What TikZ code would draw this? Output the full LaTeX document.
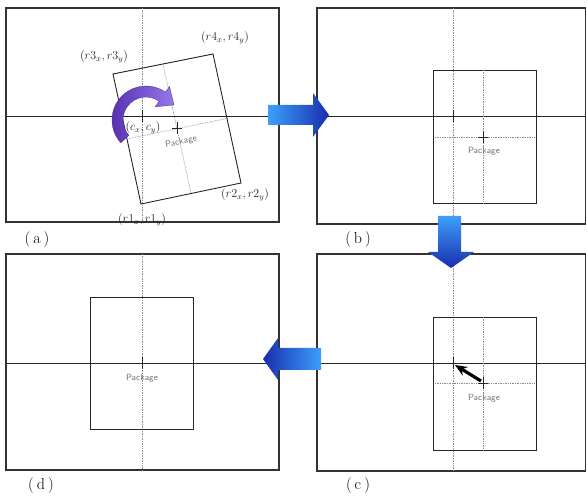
\documentclass[tikz,border=0pt]{standalone}
\usepackage{fontspec}
\usetikzlibrary{arrows.meta}
\definecolor{lblue}{RGB}{60,160,250}
\definecolor{dblue}{RGB}{25,45,175}
\definecolor{dviol}{RGB}{85,45,175}
\definecolor{lviol}{RGB}{150,120,235}
\tikzset{
  pluscross/.pic={\draw[line width=0.9pt,black!85] (-5,0)--(5,0) (0,-6)--(0,6);},
  frame/.style={draw=black!80, line width=1.2pt},
  pkgbox/.style={draw=black!85, line width=0.9pt},
  axisline/.style={draw=black!85, line width=0.9pt},
  dots/.style={draw=black!45, line width=0.7pt, densely dotted},
  pkgtxt/.style={font=\sffamily\fontsize{9}{9}\selectfont, text=black!55, inner sep=0pt},
  panel/.style={font=\fontsize{16}{16}\selectfont, inner sep=0pt},
  coordlbl/.style={font=\fontsize{11.5}{11.5}\selectfont, text=black!85, inner sep=0pt},
  bluearrow/.style={draw=none}
}
\begin{document}
\begin{tikzpicture}[x=1pt,y=-1pt]
\useasboundingbox (0,0) rectangle (587,497);
\fill[white] (0,0) rectangle (587,497);

% ---------- panel (a)
\draw[frame] (6,8) rectangle (279,222);
\draw[dots] (142,8) -- (142,222);
\draw[axisline] (6,116) -- (279,116);
\draw[pkgbox] (113,74) -- (213,54) -- (241,183) -- (141,204) -- cycle;
\draw[dots] (163,64) -- (191,193.5);
\draw[dots] (127,139) -- (227,118.5);
\pic at (142,116) {pluscross};
\pic at (177,128.5) {pluscross};
\node[pkgtxt, rotate=11] (pa) at (181,142) {Package};
\path[left color=dviol, right color=lviol, draw=dviol!80!black, line width=0.3pt]
  (120.73,142.75) arc[start angle=138, end angle=305, radius=34]
  -- (169.5,86.5) -- (174,105) -- (155.2,106.8) -- (159.19,101.16)
  arc[start angle=305, end angle=138, radius=23] -- cycle;
\node[coordlbl] (r3) at (104,57) {$(r3_{x},r3_{y})$};
\node[coordlbl] (r4) at (225,38) {$(r4_{x},r4_{y})$};
\node[coordlbl] (cc) at (143,128) {$(c_{x},c_{y})$};
\node[coordlbl] (r1) at (142,220) {$(r1_{x},r1_{y})$};
\node[coordlbl] (r2) at (245,195) {$(r2_{x},r2_{y})$};
\node[panel] (la) at (37,240) {(\kern3pt a\kern3pt)};

% ---------- panel (b)
\draw[frame] (317,8) rectangle (585.5,224);
\draw[dots] (453,8) -- (453,224);
\draw[axisline] (317,116) -- (585.5,116);
\draw[pkgbox] (433,70) rectangle (536,203);
\draw[dots] (483,70) -- (483,203);
\draw[dots] (435,137) -- (535,137);
\pic at (453,116) {pluscross};
\pic at (483,137) {pluscross};
\node[pkgtxt] (pb) at (484,151) {Package};
\node[panel] (lb) at (358,240) {(\kern3pt b\kern3pt)};

% ---------- panel (c)
\draw[frame] (317,254) rectangle (585.5,471);
\draw[dots] (453,254) -- (453,471);
\draw[axisline] (317,363) -- (585.5,363);
\draw[pkgbox] (433,317) rectangle (536,450);
\draw[dots] (483,317) -- (483,450);
\draw[dots] (435,383) -- (535,383);
\pic at (453,363) {pluscross};
\pic at (483,383) {pluscross};
\node[pkgtxt] (pc) at (484,398) {Package};
\coordinate (pcc) at (481,381);
\coordinate (occ) at (455,365);
\draw[line width=3.2pt, black, -{Stealth[length=12pt,width=10pt]}] (pcc) -- (occ);
\node[panel] (lc) at (358,486) {(\kern3pt c\kern3pt)};

% ---------- panel (d)
\draw[frame] (6,254) rectangle (279,470);
\draw[dots] (142,254) -- (142,470);
\draw[axisline] (6,363) -- (279,363);
\draw[pkgbox] (90,297) rectangle (193,429);
\pic at (142,363) {pluscross};
\node[pkgtxt] (pd) at (142,378) {Package};
\node[panel] (ld) at (41,486) {(\kern3pt d\kern3pt)};

% ---------- blue arrows
\path[bluearrow, left color=lblue, right color=dblue]
  (268,105) -- (313,105) -- (313,93) -- (329,115) -- (313,137) -- (313,125) -- (268,125) -- cycle;
\path[bluearrow, top color=lblue, bottom color=dblue]
  (438,216) -- (461,216) -- (461,252) -- (474,252) -- (451,268) -- (428,252) -- (438,252) -- cycle;
\path[bluearrow, left color=dblue, right color=lblue]
  (321,348) -- (278,348) -- (278,338) -- (263,359) -- (278,380) -- (278,370) -- (321,370) -- cycle;
\end{tikzpicture}
\end{document}
